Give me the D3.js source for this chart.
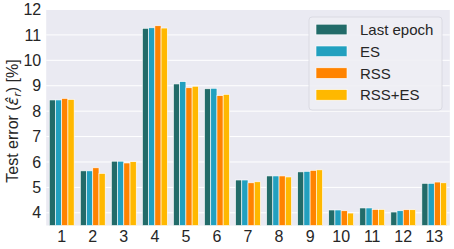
<!DOCTYPE html>
<html><head><meta charset="utf-8">
<script src="https://cdn.jsdelivr.net/npm/d3@7"></script>
<style>body{margin:0;background:#fff}svg{display:block}text{font-family:"Liberation Sans",Arial,sans-serif;fill:#262626}</style>
</head><body>
<svg id="c" width="454" height="249"></svg>
<script>
const categories = ["1","2","3","4","5","6","7","8","9","10","11","12","13"];
const seriesNames = ["Last epoch","ES","RSS","RSS+ES"];
const seriesColors = ["#226b69","#22a0bf","#ff8300","#ffb800"];
const lastEpoch = [8.44,5.65,6.03,11.26,9.07,8.88,5.29,5.45,5.61,4.11,4.19,4.03,5.16];
const es        = [8.44,5.65,6.03,11.28,9.16,8.90,5.29,5.45,5.63,4.11,4.19,4.08,5.16];
const rss       = [8.50,5.77,5.96,11.36,8.92,8.61,5.18,5.45,5.67,4.08,4.13,4.12,5.21];
const rssEs     = [8.46,5.55,6.01,11.27,8.98,8.66,5.22,5.41,5.69,3.99,4.13,4.12,5.18];
const yTicks = [4,5,6,7,8,9,10,11,12];
const yDomain = [3.5,12];

const series = [lastEpoch, es, rss, rssEs];
const svg = d3.select("#c");
const L=46.2, R=449.8, T=9.5, B=225.5;

svg.append("rect").attr("x",L).attr("y",T).attr("width",R-L).attr("height",B-T).attr("fill","#eaeaf2");

const x = d3.scaleBand().domain(categories).range([L,R]).paddingInner(0.2).paddingOuter(0.1);
const xs = d3.scaleBand().domain(d3.range(series.length)).range([0,x.bandwidth()]);
const y = d3.scaleLinear().domain(yDomain).range([B,T]);

// grid
svg.append("g").selectAll("line").data(yTicks).join("line")
  .attr("x1",L).attr("x2",R).attr("y1",d=>y(d)).attr("y2",d=>y(d))
  .attr("stroke","#fff").attr("stroke-width",1);

// bars
const data = [];
categories.forEach((c,i)=>series.forEach((s,j)=>data.push({c,j,v:s[i]})));
svg.append("g").selectAll("rect").data(data).join("rect")
  .attr("x",d=>x(d.c)+xs(d.j))
  .attr("width",xs.bandwidth())
  .attr("y",d=>y(d.v))
  .attr("height",d=>B-y(d.v))
  .attr("fill",d=>seriesColors[d.j])
  .attr("stroke","#fff").attr("stroke-width",0.6);

// axes
const ya = d3.axisLeft(y).tickValues(yTicks).tickSize(0).tickPadding(5).tickFormat(d3.format("d"));
const gy = svg.append("g").attr("transform",`translate(${L},0)`).call(ya);
gy.select(".domain").remove();
gy.selectAll("text").style("font-size","16px").attr("fill","#262626");

const xa = d3.axisBottom(x).tickSize(0).tickPadding(5);
const gx = svg.append("g").attr("transform",`translate(0,${B})`).call(xa);
gx.select(".domain").remove();
gx.selectAll("text").style("font-size","16px").attr("fill","#262626");

// y label
const yl = svg.append("text").attr("transform",`translate(18,121) rotate(-90)`)
  .attr("text-anchor","middle").style("font-size","16px");
yl.append("tspan").text("Test error (");
yl.append("tspan").text("\u03B5\u0302").style("font-family","DejaVu Sans").style("font-style","italic");
yl.append("tspan").text("r").attr("baseline-shift","-25%").style("font-size","11px").style("font-family","DejaVu Sans").style("font-style","italic");
yl.append("tspan").text(") [%]");

// legend
const lg = svg.append("g");
lg.append("rect").attr("x",309).attr("y",17).attr("width",133).attr("height",93).attr("rx",3)
  .attr("fill","#eeeef4").attr("fill-opacity",0.9).attr("stroke","#d6d6de").attr("stroke-width",0.8);
seriesNames.forEach((n,i)=>{
  const cy = 29.5 + i*21.8;
  lg.append("rect").attr("x",316).attr("y",cy-5.3).attr("width",31).attr("height",10.6)
    .attr("fill",seriesColors[i]).attr("stroke","#fff").attr("stroke-width",0.6);
  lg.append("text").attr("x",360).attr("y",cy+5.4).text(n).style("font-size","15px");
});
</script>
</body></html>
